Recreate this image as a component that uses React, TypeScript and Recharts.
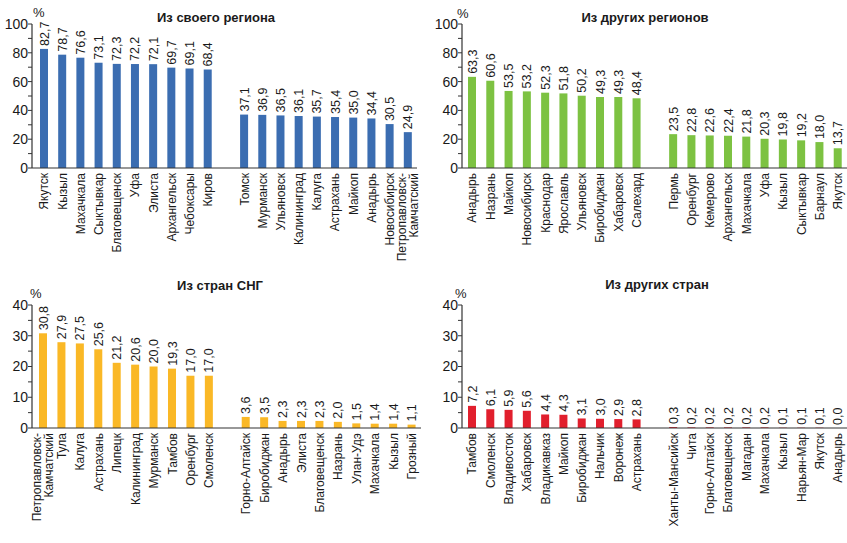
import React from 'react';
import { BarChart, Bar, XAxis, YAxis } from 'recharts';

const FONT = '"Liberation Sans", Arial, sans-serif';

// Panel 1: Из своего региона
const own1Names = ['Якутск', 'Кызыл', 'Махачкала', 'Сыктывкар', 'Благовещенск', 'Уфа', 'Элиста', 'Архангельск', 'Чебоксары', 'Киров'];
const own1Values = [82.7, 78.7, 76.6, 73.1, 72.3, 72.2, 72.1, 69.7, 69.1, 68.4];
const own2Names = ['Томск', 'Мурманск', 'Ульяновск', 'Калининград', 'Калуга', 'Астрахань', 'Майкоп', 'Анадырь', 'Новосибирск', 'Петропавловск-Камчатский'];
const own2Values = [37.1, 36.9, 36.5, 36.1, 35.7, 35.4, 35.0, 34.4, 30.5, 24.9];

// Panel 2: Из других регионов
const reg1Names = ['Анадырь', 'Назрань', 'Майкоп', 'Новосибирск', 'Краснодар', 'Ярославль', 'Ульяновск', 'Биробиджан', 'Хабаровск', 'Салехард'];
const reg1Values = [63.3, 60.6, 53.5, 53.2, 52.3, 51.8, 50.2, 49.3, 49.3, 48.4];
const reg2Names = ['Пермь', 'Оренбург', 'Кемерово', 'Архангельск', 'Махачкала', 'Уфа', 'Кызыл', 'Сыктывкар', 'Барнаул', 'Якутск'];
const reg2Values = [23.5, 22.8, 22.6, 22.4, 21.8, 20.3, 19.8, 19.2, 18.0, 13.7];

// Panel 3: Из стран СНГ
const cis1Names = ['Петропавловск-Камчатский', 'Тула', 'Калуга', 'Астрахань', 'Липецк', 'Калининград', 'Мурманск', 'Тамбов', 'Оренбург', 'Смоленск'];
const cis1Values = [30.8, 27.9, 27.5, 25.6, 21.2, 20.6, 20.0, 19.3, 17.0, 17.0];
const cis2Names = ['Горно-Алтайск', 'Биробиджан', 'Анадырь', 'Элиста', 'Благовещенск', 'Назрань', 'Улан-Удэ', 'Махачкала', 'Кызыл', 'Грозный'];
const cis2Values = [3.6, 3.5, 2.3, 2.3, 2.3, 2.0, 1.5, 1.4, 1.4, 1.1];

// Panel 4: Из других стран
const oth1Names = ['Тамбов', 'Смоленск', 'Владивосток', 'Хабаровск', 'Владикавказ', 'Майкоп', 'Биробиджан', 'Нальчик', 'Воронеж', 'Астрахань'];
const oth1Values = [7.2, 6.1, 5.9, 5.6, 4.4, 4.3, 3.1, 3.0, 2.9, 2.8];
const oth2Names = ['Ханты-Мансийск', 'Чита', 'Горно-Алтайск', 'Благовещенск', 'Магадан', 'Махачкала', 'Кызыл', 'Нарьян-Мар', 'Якутск', 'Анадырь'];
const oth2Values = [0.3, 0.2, 0.2, 0.2, 0.2, 0.2, 0.1, 0.1, 0.1, 0.0];

const ticks100 = [0, 10, 20, 30, 40, 50, 60, 70, 80, 90, 100];
const ticks40 = [0, 5, 10, 15, 20, 25, 30, 35, 40];

const buildRows = (n1: string[], v1: number[], n2: string[], v2: number[]) => [
  ...n1.map((name, i) => ({ name, v: v1[i] })),
  { name: ' ', v: null },
  ...n2.map((name, i) => ({ name, v: v2[i] })),
];

const fmt = (v: number) => v.toFixed(1).replace('.', ',');

const CatTick = (props: any) => {
  const { x, y, payload } = props;
  const label: string = payload.value;
  if (!label || !label.trim()) return null;
  let lines = [label];
  if (label.length > 18 && label.indexOf('-') > 0) {
    const i = label.indexOf('-');
    lines = [label.slice(0, i + 1), label.slice(i + 1)];
  }
  return (
    <g transform={`translate(${x},${y})`}>
      <text transform="rotate(-90)" textAnchor="end" fontSize={12} fill="#1a1a1a" fontFamily={FONT}>
        {lines.length === 1 ? (
          <tspan x={0} dy="0.36em">{lines[0]}</tspan>
        ) : (
          <>
            <tspan x={0} dy="-0.2em">{lines[0]}</tspan>
            <tspan x={0} dy="1.05em">{lines[1]}</tspan>
          </>
        )}
      </text>
    </g>
  );
};

// Bar shape drawing the rectangle and its rotated value label
const BarWithLabel = (props: any) => {
  const { x, y, width, height, fill, payload } = props;
  const value = payload ? payload.v : props.value;
  if (value === null || value === undefined) return null;
  const h = Math.max(0, height || 0);
  const cx = x + width / 2;
  const ty = y - 3;
  return (
    <g>
      {h > 0 && <rect x={x} y={y} width={width} height={h} fill={fill} />}
      <text
        transform={`translate(${cx},${ty}) rotate(-90)`}
        textAnchor="start"
        dy="0.36em"
        fontSize={12.5}
        fill="#1a1a1a"
        fontFamily={FONT}
      >
        {fmt(value)}
      </text>
    </g>
  );
};

type PanelProps = {
  left: number;
  top: number;
  width: number;
  height: number;
  marginTop: number;
  marginRight: number;
  plotH: number;
  padLeft: number;
  yMax: number;
  ticks: number[];
  labelStep: number;
  rows: any[];
  color: string;
  title: string;
  titleX: number;
  titleY: number;
  pctX: number;
  pctY: number;
};

const Panel = (p: PanelProps) => {
  const xAxisH = p.height - p.marginTop - p.plotH;
  return (
    <>
      <div style={{ position: 'absolute', left: p.left, top: p.top }}>
        <BarChart
          width={p.width}
          height={p.height}
          data={p.rows}
          margin={{ top: p.marginTop, right: p.marginRight, bottom: 0, left: 0 }}
          barCategoryGap={0}
        >
          <XAxis
            dataKey="name"
            interval={0}
            tickLine={false}
            tickSize={3}
            tickMargin={2}
            axisLine={{ stroke: '#333', strokeWidth: 1.2 }}
            height={xAxisH}
            padding={{ left: p.padLeft, right: 0 }}
            tick={<CatTick />}
          />
          <YAxis
            type="number"
            domain={[0, p.yMax]}
            ticks={p.ticks}
            interval={0}
            width={32}
            tickSize={4}
            tickMargin={0}
            axisLine={{ stroke: '#333', strokeWidth: 1.2 }}
            tickLine={{ stroke: '#333' }}
            tickFormatter={(v: number) => (v % p.labelStep === 0 ? String(v) : '')}
            tick={{ fontSize: 14, fill: '#1a1a1a', fontFamily: FONT }}
          />
          <Bar dataKey="v" fill={p.color} barSize={8} isAnimationActive={false} shape={<BarWithLabel />} />
        </BarChart>
      </div>
      <div
        style={{
          position: 'absolute',
          left: p.titleX - 100,
          width: 200,
          top: p.titleY - 8,
          textAlign: 'center',
          fontFamily: FONT,
          fontWeight: 'bold',
          fontSize: 13,
          lineHeight: '16px',
          color: '#1a1a1a',
        }}
      >
        {p.title}
      </div>
      <div
        style={{
          position: 'absolute',
          left: p.pctX,
          top: p.pctY,
          fontFamily: FONT,
          fontSize: 13,
          lineHeight: '14px',
          color: '#1a1a1a',
        }}
      >
        %
      </div>
    </>
  );
};

export default function App() {
  return (
    <div style={{ position: 'absolute', left: 0, top: 0, width: 847, height: 543, background: '#fff', overflow: 'hidden' }}>
      <Panel
        left={0}
        top={0}
        width={430}
        height={280}
        marginTop={24}
        marginRight={13}
        plotH={144}
        padLeft={3}
        yMax={100}
        ticks={ticks100}
        labelStep={20}
        rows={buildRows(own1Names, own1Values, own2Names, own2Values)}
        color="#3b6db1"
        title="Из своего региона"
        titleX={216}
        titleY={18}
        pctX={33}
        pctY={6}
      />
      <Panel
        left={430}
        top={0}
        width={417}
        height={280}
        marginTop={24}
        marginRight={0}
        plotH={144}
        padLeft={1}
        yMax={100}
        ticks={ticks100}
        labelStep={20}
        rows={buildRows(reg1Names, reg1Values, reg2Names, reg2Values)}
        color="#7dc242"
        title="Из других регионов"
        titleX={645}
        titleY={18}
        pctX={457}
        pctY={7}
      />
      <Panel
        left={0}
        top={270}
        width={430}
        height={273}
        marginTop={35}
        marginRight={9}
        plotH={123}
        padLeft={2}
        yMax={40}
        ticks={ticks40}
        labelStep={10}
        rows={buildRows(cis1Names, cis1Values, cis2Names, cis2Values)}
        color="#fab826"
        title="Из стран СНГ"
        titleX={220}
        titleY={286}
        pctX={30}
        pctY={287}
      />
      <Panel
        left={430}
        top={270}
        width={417}
        height={273}
        marginTop={35}
        marginRight={0}
        plotH={123}
        padLeft={1}
        yMax={40}
        ticks={ticks40}
        labelStep={10}
        rows={buildRows(oth1Names, oth1Values, oth2Names, oth2Values)}
        color="#e11f2d"
        title="Из других стран"
        titleX={657}
        titleY={285}
        pctX={455}
        pctY={287}
      />
    </div>
  );
}
